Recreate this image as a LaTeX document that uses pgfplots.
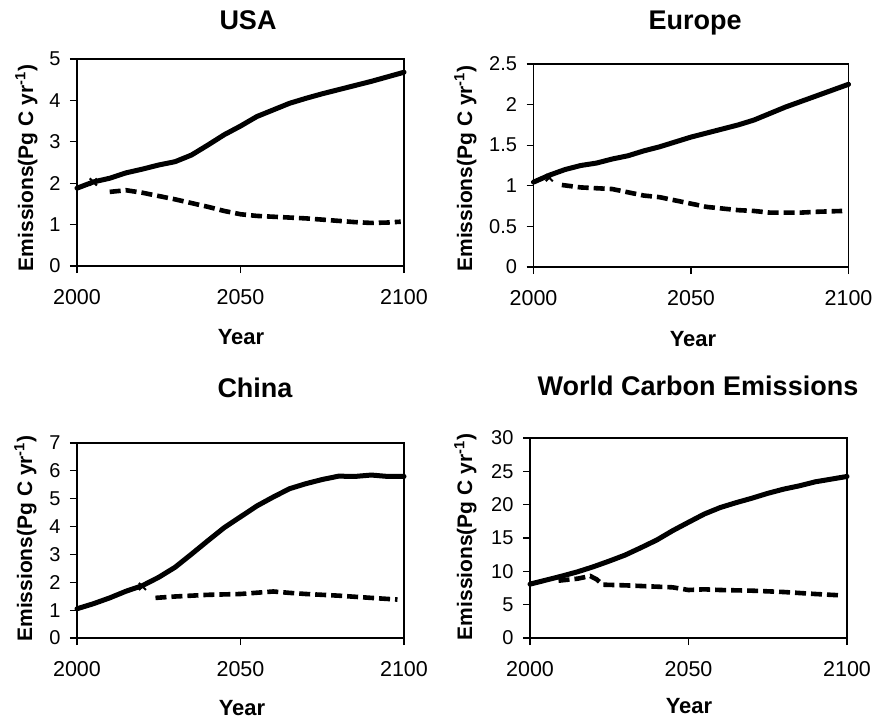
\documentclass[border=0pt]{standalone}
\usepackage{fontspec}
\setmainfont{Liberation Sans}
\usepackage{pgfplots}
\pgfplotsset{compat=1.18}
\pgfplotsset{
  panel/.style={
    scale only axis, xmin=2000, xmax=2100, xtick={2000,2050,2100}, ymin=0,
    tick align=outside, tick pos=left, major tick length=7pt,
    axis line style={line width=1.2pt},
    every tick/.style={black, line width=1.2pt},
    /pgf/number format/assume math mode=true,
    /pgf/number format/1000 sep={},
    xticklabel style={font=\fontsize{21.5}{24}\selectfont, yshift=-13pt},
    yticklabel style={font=\fontsize{20}{22}\selectfont, xshift=-6pt},
    clip=false,
    anchor=south west,
  },
  solidline/.style={black, line width=5pt, line join=round, line cap=round},
  dashline/.style={black, line width=4.6pt, dash pattern=on 11pt off 5pt},
  markx/.style={black, only marks, mark=x, mark size=5pt, mark options={line width=2pt}},
}
\newcommand{\ttl}{\fontsize{27}{30}\selectfont\bfseries}
\newcommand{\lbl}{\fontsize{22}{24}\selectfont\bfseries}
\newcommand{\ylbl}{\fontsize{21}{24}\selectfont\bfseries Emissions(Pg C yr\textsuperscript{-1})}
\begin{document}
\begin{tikzpicture}
\useasboundingbox (0pt,0pt) rectangle (874pt,721pt);

% ---------- USA ----------
\begin{axis}[panel, at={(77pt,455pt)}, width=327pt, height=207pt, ymax=5, ytick={0,1,2,3,4,5}]
\addplot[solidline] coordinates {
(2000,1.88) (2005,2.03) (2010,2.12) (2015,2.25) (2020,2.34) (2025,2.44) (2030,2.52)
(2035,2.68) (2040,2.92) (2045,3.17) (2050,3.38) (2055,3.61) (2060,3.77) (2065,3.93)
(2070,4.05) (2075,4.16) (2080,4.26) (2085,4.36) (2090,4.46) (2095,4.57) (2100,4.68)};
\addplot[dashline] coordinates {
(2010,1.79) (2015,1.83) (2020,1.77) (2025,1.69) (2030,1.61) (2035,1.52) (2040,1.43)
(2045,1.33) (2050,1.25) (2055,1.21) (2060,1.19) (2065,1.17) (2070,1.15) (2075,1.12)
(2080,1.09) (2085,1.06) (2090,1.04) (2095,1.05) (2099,1.07)};
\addplot[markx] coordinates {(2005,2.03)};
\end{axis}

% ---------- Europe ----------
\begin{axis}[panel, at={(533.5pt,454pt)}, width=315pt, height=203pt, ymax=2.5, ytick={0,0.5,1,1.5,2,2.5}]
\addplot[solidline] coordinates {
(2000,1.045) (2005,1.13) (2010,1.20) (2015,1.25) (2020,1.28) (2025,1.33) (2030,1.37)
(2035,1.43) (2040,1.48) (2045,1.54) (2050,1.60) (2055,1.65) (2060,1.70) (2065,1.75)
(2070,1.81) (2075,1.89) (2080,1.97) (2085,2.04) (2090,2.11) (2095,2.18) (2100,2.25)};
\addplot[dashline] coordinates {
(2009,1.01) (2015,0.98) (2020,0.97) (2025,0.96) (2030,0.92) (2035,0.88) (2040,0.86)
(2045,0.82) (2050,0.78) (2055,0.74) (2060,0.72) (2065,0.70) (2070,0.69) (2075,0.67)
(2080,0.67) (2085,0.67) (2090,0.68) (2098,0.69)};
\addplot[markx] coordinates {(2005,1.10)};
\end{axis}

% ---------- China ----------
\begin{axis}[panel, at={(77pt,83pt)}, width=327pt, height=195pt, ymax=7, ytick={0,1,2,3,4,5,6,7}]
\addplot[solidline] coordinates {
(2000,1.05) (2005,1.23) (2010,1.44) (2015,1.68) (2020,1.88) (2025,2.18) (2030,2.54)
(2035,3.01) (2040,3.49) (2045,3.96) (2050,4.35) (2055,4.74) (2060,5.06) (2065,5.36)
(2070,5.54) (2075,5.69) (2080,5.81) (2085,5.80) (2090,5.85) (2095,5.80) (2100,5.80)};
\addplot[dashline] coordinates {
(2024,1.44) (2030,1.49) (2040,1.55) (2050,1.58) (2060,1.67) (2065,1.62) (2070,1.58)
(2080,1.52) (2090,1.44) (2098,1.38)};
\addplot[markx] coordinates {(2020,1.85)};
\end{axis}

% ---------- World ----------
\begin{axis}[panel, at={(530pt,83pt)}, width=317pt, height=200pt, ymax=30, ytick={0,5,10,15,20,25,30}]
\addplot[solidline] coordinates {
(2000,8.08) (2005,8.68) (2010,9.28) (2015,9.93) (2020,10.69) (2025,11.54) (2030,12.44)
(2035,13.55) (2040,14.70) (2045,16.10) (2050,17.36) (2055,18.60) (2060,19.57) (2065,20.30)
(2070,20.97) (2075,21.70) (2080,22.33) (2085,22.83) (2090,23.43) (2095,23.83) (2100,24.23)};
\addplot[dashline] coordinates {
(2009,8.6) (2015,8.9) (2019,9.3) (2021,8.8) (2023,8.0) (2030,7.9) (2040,7.7) (2045,7.6)
(2050,7.2) (2055,7.3) (2060,7.2) (2070,7.1) (2080,6.9) (2090,6.6) (2098,6.4)};
\end{axis}

% ---------- titles ----------
\node[anchor=base] at (248pt,691pt) {\ttl USA};
\node[anchor=base] at (695pt,691.5pt) {\ttl Europe};
\node[anchor=base] at (255pt,323.5pt) {\ttl China};
\node[anchor=base] at (698pt,326pt) {\ttl World Carbon Emissions};
% ---------- x labels ----------
\node[anchor=base] at (241pt,377pt) {\lbl Year};
\node[anchor=base] at (693pt,375pt) {\lbl Year};
\node[anchor=base] at (242pt,5.5pt) {\lbl Year};
\node[anchor=base] at (689pt,8pt) {\lbl Year};
% ---------- y labels ----------
\node[anchor=base, rotate=90] at (33pt,553pt) {\ylbl};
\node[anchor=base, rotate=90] at (472pt,552.5pt) {\ylbl};
\node[anchor=base, rotate=90] at (32pt,182.5pt) {\ylbl};
\node[anchor=base, rotate=90] at (472pt,184pt) {\ylbl};
\end{tikzpicture}
\end{document}
